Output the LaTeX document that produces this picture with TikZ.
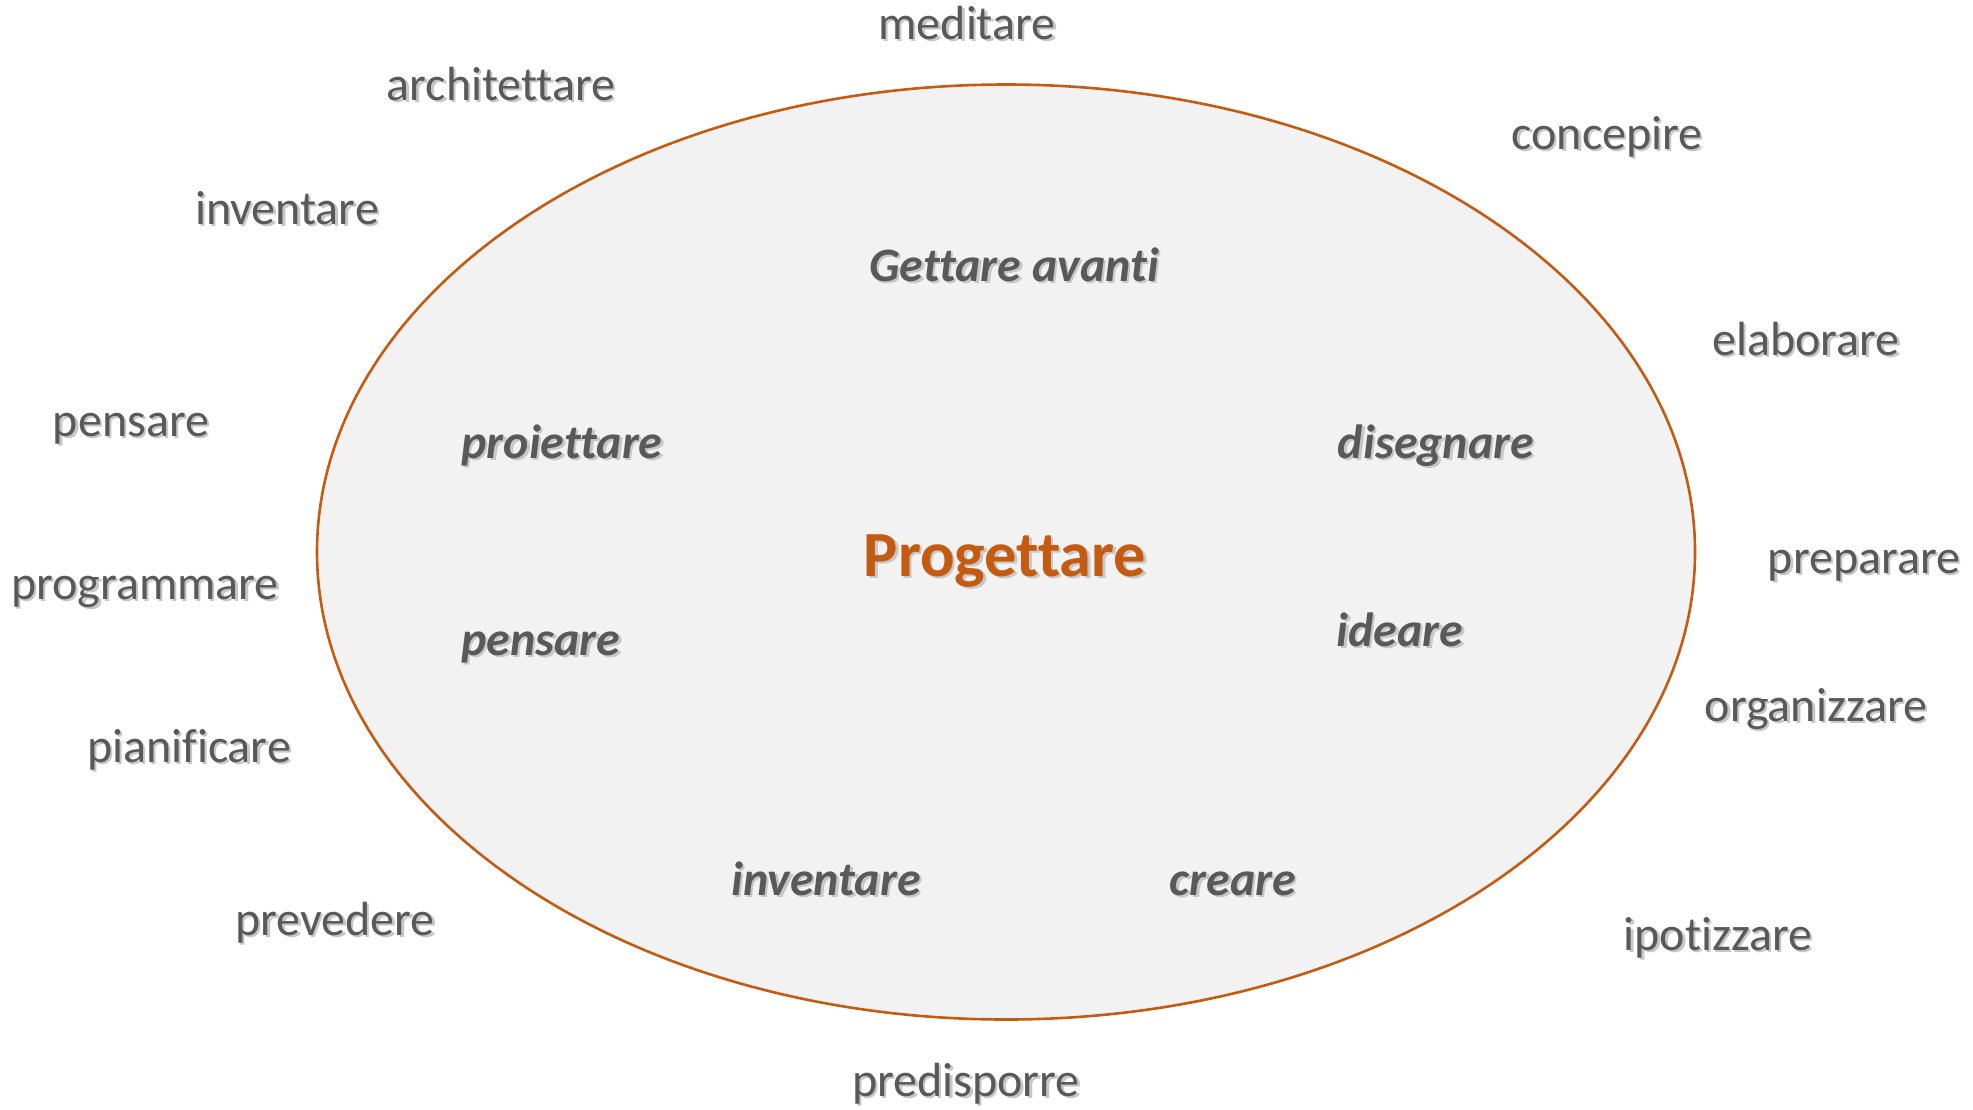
\documentclass[tikz,border=0pt]{standalone}
\usepackage{fontspec}
\setmainfont{Carlito}[Ligatures={NoCommon,TeX}]
\usetikzlibrary{shapes.geometric}
\definecolor{txtgray}{HTML}{595959}
\definecolor{rustorange}{HTML}{C55A11}
\definecolor{ellfill}{HTML}{F2F2F2}
\newcommand{\shtext}[1]{\makebox[0pt][l]{\raisebox{-1.2pt}{\hspace{1.2pt}\textcolor{black!22}{#1}}}#1}
\tikzset{
  outerword/.style={anchor=base, text=txtgray, inner sep=0pt, font=\fontsize{24}{28}\selectfont},
  innerword/.style={anchor=base, text=txtgray, inner sep=0pt, font=\fontsize{24}{28}\selectfont\bfseries\itshape},
  mainword/.style={anchor=base, text=rustorange, inner sep=0pt, font=\fontsize{32.2}{38}\selectfont\bfseries},
  bigellipse/.style={ellipse, draw=rustorange, fill=ellfill, line width=1.3pt, inner sep=0pt, minimum width=689pt, minimum height=467.5pt}
}
\begin{document}
\begin{tikzpicture}[x=0.5pt,y=-0.5pt]
\useasboundingbox (0,0) rectangle (1973,1109);
\node[bigellipse] (ell) at (1006,552) {};
% outer words
\node[outerword] (meditare) at (967,39) {\shtext{meditare}};
\node[outerword] (architettare) at (501,100) {\shtext{architettare}};
\node[outerword] (concepire) at (1607,149) {\shtext{concepire}};
\node[outerword] (inventareA) at (287,224) {\shtext{inventare}};
\node[outerword] (elaborare) at (1806,355) {\shtext{elaborare}};
\node[outerword] (pensareA) at (131,436) {\shtext{pensare}};
\node[outerword] (preparare) at (1864,573) {\shtext{preparare}};
\node[outerword] (programmare) at (145,599) {\shtext{programmare}};
\node[outerword] (organizzare) at (1816,721) {\shtext{organizzare}};
\node[outerword] (pianificare) at (189,762) {\shtext{pianificare}};
\node[outerword] (prevedere) at (335,935) {\shtext{prevedere}};
\node[outerword] (ipotizzare) at (1718,950) {\shtext{ipotizzare}};
\node[outerword] (predisporre) at (966,1096) {\shtext{predisporre}};
% inner words
\node[innerword] (gettare) at (1014,281) {\shtext{Gettare avanti}};
\node[innerword] (proiettare) at (562,458) {\shtext{proiettare}};
\node[innerword] (disegnare) at (1436,458) {\shtext{disegnare}};
\node[innerword] (pensareB) at (541,655) {\shtext{pensare}};
\node[innerword] (ideare) at (1400,646) {\shtext{ideare}};
\node[innerword] (inventareB) at (826,895) {\shtext{inventare}};
\node[innerword] (creare) at (1233,895) {\shtext{creare}};
\node[mainword] (progettare) at (1005,576) {\shtext{Progettare}};
\end{tikzpicture}
\end{document}
